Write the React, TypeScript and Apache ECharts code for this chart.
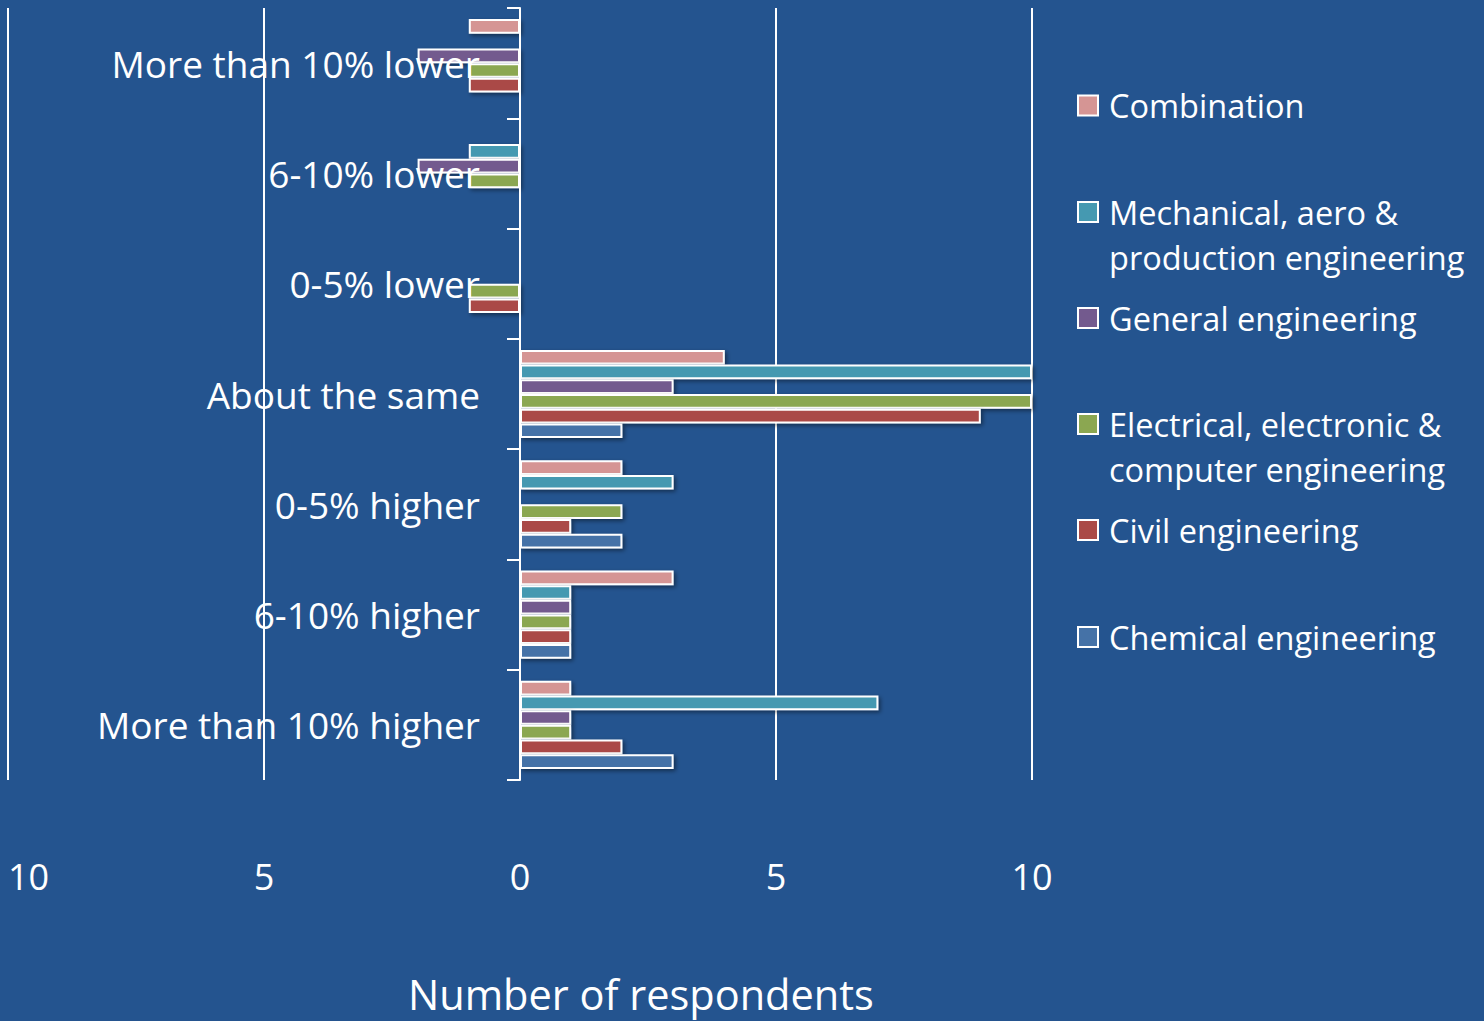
import React, { useEffect, useRef } from "react";
import * as echarts from "echarts";

const categories = [
  "More than 10% lower",
  "6-10% lower",
  "0-5% lower",
  "About the same",
  "0-5% higher",
  "6-10% higher",
  "More than 10% higher",
];

const seriesNames = [
  "Combination",
  "Mechanical, aero & production engineering",
  "General engineering",
  "Electrical, electronic & computer engineering",
  "Civil engineering",
  "Chemical engineering",
];

const combination = [-1, 0, 0, 4, 2, 3, 1];
const mechanical = [0, -1, 0, 10, 3, 1, 7];
const general = [-2, -2, 0, 3, 0, 1, 1];
const electrical = [-1, -1, -1, 10, 2, 1, 1];
const civil = [-1, 0, -1, 9, 1, 1, 2];
const chemical = [0, 0, 0, 2, 2, 1, 3];

const seriesValues = [combination, mechanical, general, electrical, civil, chemical];
const colors = ["#D59594", "#4599B1", "#735A8E", "#8BA751", "#AA4A47", "#4572A7"];

const legendLabels = [
  "Combination",
  "Mechanical, aero &\nproduction engineering",
  "General engineering",
  "Electrical, electronic &\ncomputer engineering",
  "Civil engineering",
  "Chemical engineering",
];
const legendCenters = [105.5, 212, 318, 424, 530, 637];

const FONT = "'Open Sans', sans-serif";

export default function App() {
  const ref = useRef<HTMLDivElement>(null);

  useEffect(() => {
    document.body.style.margin = "0";
    const chart = echarts.init(ref.current!, undefined, { renderer: "svg" });

    const legends = seriesNames.map((name, i) => {
      const twoLine = legendLabels[i].includes("\n");
      const lh = 45;
      const top = twoLine ? legendCenters[i] - 67.5 : legendCenters[i] - 22.5;
      return {
        data: [name],
        orient: "vertical",
        left: 1077,
        top,
        padding: 0,
        itemWidth: 20,
        itemHeight: 20,
        icon: "rect",
        selectedMode: false,
        itemStyle: { borderColor: "#ffffff", borderWidth: 2 },
        formatter: () => (twoLine ? "\n" + legendLabels[i] : legendLabels[i]),
        textStyle: {
          color: "#ffffff",
          fontFamily: FONT,
          fontSize: 32.5,
          lineHeight: lh,
          padding: [0, 0, 0, 6],
        },
      };
    });

    chart.setOption({
      animation: false,
      backgroundColor: "#24548F",
      textStyle: { fontFamily: FONT },
      grid: {
        left: 8,
        right: 452,
        top: 8,
        bottom: 241,
        containLabel: false,
        outerBoundsMode: "none",
      },
      legend: legends,
      xAxis: {
        type: "value",
        min: -10,
        max: 10,
        interval: 5,
        z: 0,
        axisLine: { show: false },
        axisTick: { show: false },
        splitLine: { show: true, lineStyle: { color: "#ffffff", width: 2 } },
        axisLabel: {
          color: "#ffffff",
          fontFamily: FONT,
          fontSize: 36,
          margin: 78,
          formatter: (v: number) => String(Math.abs(v)),
          alignMinLabel: "left",
        },
      },
      yAxis: {
        type: "category",
        data: categories,
        inverse: true,
        offset: -512,
        z: 5,
        axisLine: { show: true, onZero: false, lineStyle: { color: "#ffffff", width: 2 } },
        axisTick: { show: true, length: 13, lineStyle: { color: "#ffffff", width: 2 } },
        splitLine: { show: false },
        axisLabel: {
          color: "#ffffff",
          fontFamily: FONT,
          fontSize: 37,
          margin: 40,
        },
      },
      graphic: [
        {
          type: "text",
          left: 641 - 233,
          top: 997 - 24,
          style: {
            text: "Number of respondents",
            fill: "#ffffff",
            font: `41.5px ${FONT}`,
          },
        },
      ],
      series: seriesNames.map((name, i) => ({
        name,
        type: "bar",
        data: seriesValues[i],
        barGap: "0%",
        barCategoryGap: "20%",
        z: 2,
        itemStyle: {
          color: colors[i],
          borderColor: "#ffffff",
          borderWidth: 2,
          shadowBlur: 4,
          shadowOffsetX: 2,
          shadowOffsetY: 2,
          shadowColor: "rgba(0,0,0,0.45)",
        },
      })),
    });

    return () => chart.dispose();
  }, []);

  return <div ref={ref} style={{ width: 1484, height: 1021 }} />;
}
